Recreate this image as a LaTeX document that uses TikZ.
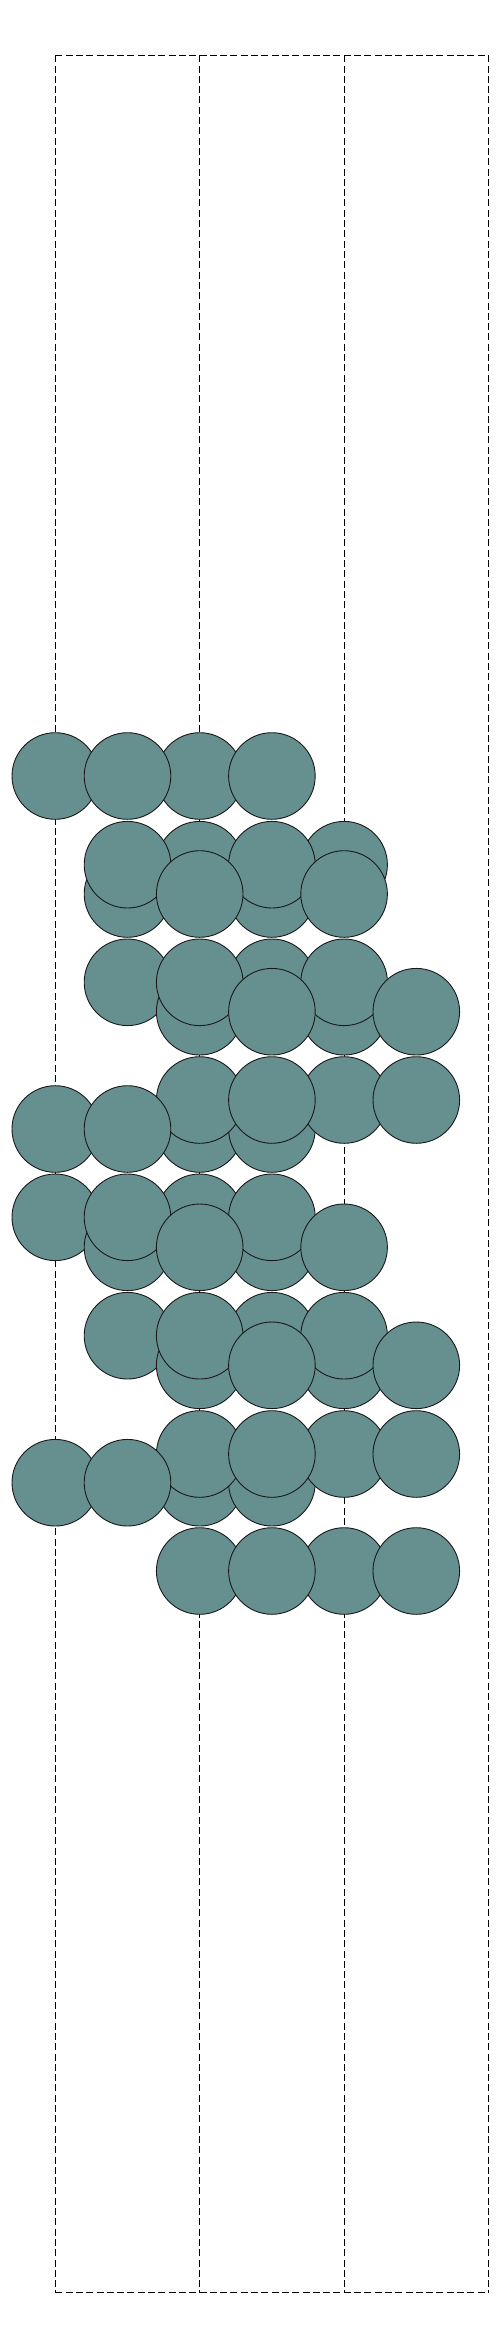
\documentclass[tikz,border=0pt]{standalone}
\definecolor{catom}{HTML}{66908F}
\tikzset{
  atom/.style={circle, draw=black!90, fill=catom, line width=0.9pt, minimum size=86.6pt, inner sep=0pt, outer sep=0pt},
  cellline/.style={draw=black, line width=0.9pt, dash pattern=on 7pt off 3.3pt},
}

\begin{document}
\begin{tikzpicture}[x=1pt, y=-1pt]
  \useasboundingbox (0,0) rectangle (500,2349);
  % cell edges and the two inner lines
  \foreach \k in {0,...,3} {
    \coordinate (top\k) at ({55.3+144.45*\k},55.3);
    \coordinate (bot\k) at ({55.3+144.45*\k},2292.7);
    \draw[cellline] (top\k) -- (bot\k);
  }
  \draw[cellline] (top0) -- (top3);
  \draw[cellline] (bot0) -- (bot3);
  % atoms, back to front
  \foreach \i/\y [count=\n] in {
      0/776, 2/776, 1/776, 3/776,
      2/864.7, 4/864.7, 1/894, 3/894, 1/864.7, 3/864.7, 2/894, 4/894,
      1/982.3, 3/982.3, 2/1011.7, 4/1011.7, 2/982.3, 4/982.3, 3/1011.7, 5/1011.7,
      2/1129, 3/1129, 0/1129, 4/1100, 2/1100, 3/1100, 5/1100, 1/1129,
      0/1217.3, 2/1217.3, 1/1247.3, 3/1247.3, 1/1217.3, 3/1217.3, 2/1247.3, 4/1247.3,
      1/1335.7, 3/1335.7, 2/1365.3, 4/1365.3, 2/1335.7, 4/1335.7, 3/1365.3, 5/1365.3,
      2/1482.7, 3/1482.7, 0/1482.7, 4/1454, 2/1454, 3/1454, 5/1454, 1/1482.7,
      2/1571, 4/1571, 3/1571, 5/1571}
    \node[atom] (atom\n) at ({55.3+72.2*\i},\y) {};
\end{tikzpicture}
\end{document}
